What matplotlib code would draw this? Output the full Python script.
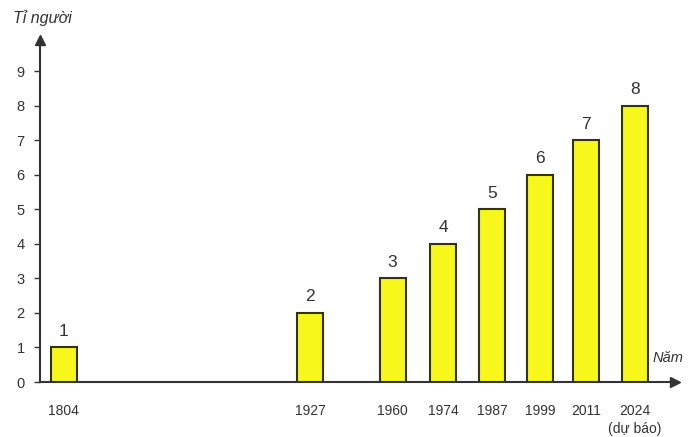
import matplotlib.pyplot as plt

# data
years = ['1804', '1927', '1960', '1974', '1987', '1999', '2011', '2024\n(dự báo)']
population = [1, 2, 3, 4, 5, 6, 7, 8]
# bar slots along the axis (not proportional to time, as in the source)
slots = [0, 5.07, 6.77, 7.81, 8.82, 9.80, 10.75, 11.76]

plt.rcParams['font.family'] = ['Liberation Sans', 'DejaVu Sans']

fig = plt.figure(figsize=(6.9, 4.37), dpi=100)
ax = fig.add_axes([40/690, 55/437, 635/690, 342/437])

bars = ax.bar(slots, population, 0.535, color='#f7f71c', edgecolor='#33330f', linewidth=1.5, zorder=3)
for rect, v in zip(bars, population):
    ax.text(rect.get_x() + rect.get_width()/2, v + 0.25, '%d' % v,
            ha='center', va='bottom', fontsize=12.5, color='#333333')

ax.set_xlim(-0.484, 12.58)
ax.set_ylim(0, 9.9)
ax.set_yticks(range(0, 10))
ax.set_xticks(slots)
ax.set_xticklabels(years, fontsize=10, color='#333333', linespacing=1.35)
ax.tick_params(axis='x', length=0, pad=16)
ax.tick_params(axis='y', length=4, width=1, color='#333333', labelsize=10.5,
               labelcolor='#333333', pad=7)

for s in ['top', 'right']:
    ax.spines[s].set_visible(False)
for s in ['left', 'bottom']:
    ax.spines[s].set_color('#333333')
    ax.spines[s].set_linewidth(1.5)

# arrow heads on the axes
kw = dict(transform=ax.transAxes, clip_on=False, color='#333333', markersize=7)
ax.plot(0, 1, marker='^', **kw)
ax.plot(1, 0, marker='>', **kw)

fig.text(42/690, 1 - 18/437, 'Tỉ người', ha='center', va='center', fontsize=11.5,
         style='italic', color='#333333')
fig.text(668/690, 1 - 358/437, 'Năm', ha='center', va='center', fontsize=10.5,
         style='italic', color='#333333')

plt.savefig('out.png', dpi=100)
